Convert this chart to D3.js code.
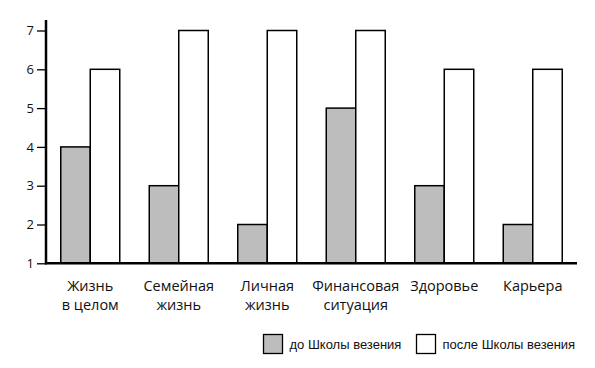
<!DOCTYPE html>
<html>
<head>
<meta charset="utf-8">
<script src="https://d3js.org/d3.v7.min.js"></script>
<style>
  body { margin: 0; background: #fff; }
  svg { display: block; }
</style>
</head>
<body>
<svg id="chart" width="595" height="368"></svg>
<script>
// data
var categories = [["Жизнь", "в целом"], ["Семейная", "жизнь"], ["Личная", "жизнь"],
                  ["Финансовая", "ситуация"], ["Здоровье"], ["Карьера"]];
var seriesNames = ["до Школы везения", "после Школы везения"];
var beforeValues = [4, 3, 2, 5, 3, 2];
var afterValues = [6, 7, 7, 7, 6, 6];
var yTicks = [1, 2, 3, 4, 5, 6, 7];

var svg = d3.select("#chart");
var plotLeft = 46, plotRight = 577, plotBottom = 263.3, plotTop = 30.5;
var labelFont = "'Open Sans', sans-serif";
var legendFont = "'Liberation Sans', Arial, sans-serif";
var gray = "#bdbdbd";

var x0 = d3.scaleBand()
    .domain(d3.range(categories.length))
    .range([plotLeft, plotRight])
    .paddingInner(1 / 3)
    .paddingOuter(1 / 6);
var x1 = d3.scaleBand().domain([0, 1]).range([0, x0.bandwidth()]);
var y = d3.scaleLinear().domain([1, 7]).range([plotBottom, plotTop]);

// bars
var groups = svg.selectAll("g.grp")
    .data(categories.map(function (c, i) { return [beforeValues[i], afterValues[i]]; }))
    .enter().append("g")
    .attr("class", "grp")
    .attr("transform", function (d, i) { return "translate(" + x0(i) + ",0)"; });

groups.selectAll("rect")
    .data(function (d) { return d; })
    .enter().append("rect")
    .attr("x", function (d, j) { return x1(j); })
    .attr("y", function (d) { return y(d); })
    .attr("width", x1.bandwidth())
    .attr("height", function (d) { return y(1) - y(d); })
    .attr("fill", function (d, j) { return j === 0 ? gray : "#fff"; })
    .attr("stroke", "#000")
    .attr("stroke-width", 1.5);

// y axis
var yAxis = svg.append("g")
    .attr("transform", "translate(" + plotLeft + ",0)")
    .call(d3.axisLeft(y).tickValues(yTicks).tickFormat(d3.format("d"))
        .tickSize(9).tickPadding(3).tickSizeOuter(0));
yAxis.select(".domain").remove();
yAxis.selectAll(".tick line").attr("stroke", "#000").attr("stroke-width", 1.3);
yAxis.selectAll(".tick text")
    .attr("font-family", labelFont)
    .attr("font-size", 13)
    .attr("fill", "#111");

svg.append("line")
    .attr("x1", plotLeft).attr("x2", plotLeft)
    .attr("y1", plotBottom + 1).attr("y2", plotTop - 10.5)
    .attr("stroke", "#000").attr("stroke-width", 2.5);
svg.append("line")
    .attr("x1", plotLeft - 1).attr("x2", plotRight)
    .attr("y1", plotBottom).attr("y2", plotBottom)
    .attr("stroke", "#000").attr("stroke-width", 2.5);

// category labels
var lab = svg.selectAll("text.cat")
    .data(categories)
    .enter().append("text")
    .attr("class", "cat")
    .attr("text-anchor", "middle")
    .attr("font-family", labelFont)
    .attr("font-size", 14.5)
    .attr("fill", "#111")
    .attr("transform", function (d, i) { return "translate(" + (x0(i) + x0.bandwidth() / 2) + ",290.7)"; });
lab.selectAll("tspan")
    .data(function (d) { return d; })
    .enter().append("tspan")
    .attr("x", 0)
    .attr("dy", function (d, k) { return k === 0 ? 0 : 19.5; })
    .text(function (d) { return d; });

// legend
var legendX = [263.5, 416.5];
var leg = svg.selectAll("g.leg")
    .data(seriesNames)
    .enter().append("g")
    .attr("class", "leg")
    .attr("transform", function (d, i) { return "translate(" + legendX[i] + ",334.5)"; });
leg.append("rect")
    .attr("width", 19).attr("height", 19)
    .attr("fill", function (d, i) { return i === 0 ? gray : "#fff"; })
    .attr("stroke", "#000").attr("stroke-width", 1.3);
leg.append("text")
    .attr("x", 26)
    .attr("y", 14.5)
    .attr("font-family", legendFont)
    .attr("font-size", 13)
    .attr("fill", "#111")
    .text(function (d) { return d; });
</script>
</body>
</html>
